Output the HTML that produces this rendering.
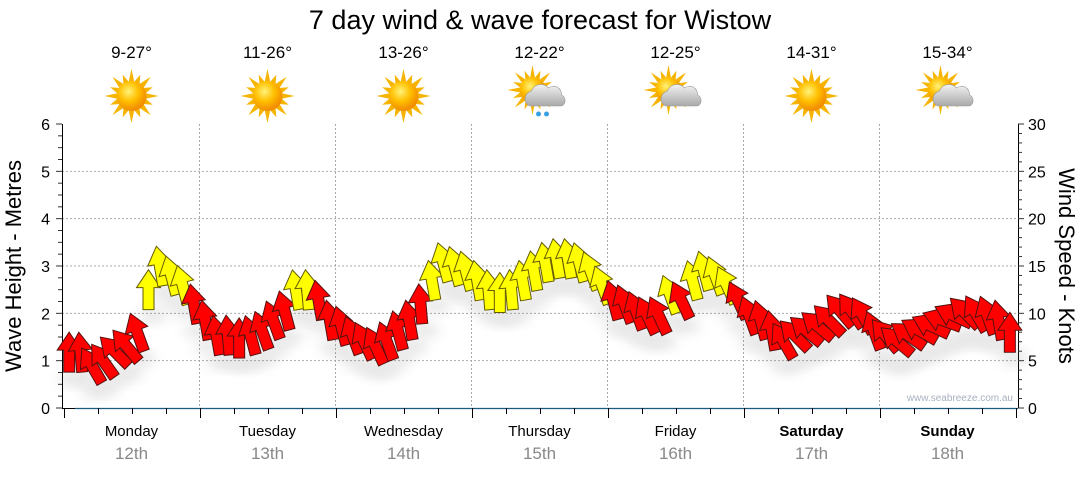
<!DOCTYPE html>
<html><head><meta charset="utf-8">
<style>
body{margin:0;background:#fff;width:1080px;height:475px;overflow:hidden;font-family:"Liberation Sans",sans-serif;}
svg text{font-family:"Liberation Sans",sans-serif;}
</style></head>
<body>
<svg id="c" width="1080" height="475" viewBox="0 0 1080 475" xmlns="http://www.w3.org/2000/svg">
<defs>
<radialGradient id="sunG" cx="40%" cy="35%" r="65%"><stop offset="0" stop-color="#fff27a"/><stop offset="0.5" stop-color="#ffc000"/><stop offset="1" stop-color="#f08a00"/></radialGradient>
<linearGradient id="cloudG" x1="0" y1="0" x2="0" y2="1"><stop offset="0" stop-color="#f2f2f2"/><stop offset="1" stop-color="#a8a8a8"/></linearGradient>
<filter id="sh" x="-50%" y="-50%" width="200%" height="200%"><feGaussianBlur stdDeviation="6"/></filter>
</defs>
<text x="540" y="29" text-anchor="middle" font-size="27" fill="#000">7 day wind &amp; wave forecast for Wistow</text>
<g id="weather"></g>
<g id="grid"></g>
<g id="axes"></g>
<g id="shadows" opacity="0.18"></g>
<g id="arrows"></g>
<text x="1013" y="401" text-anchor="end" font-size="10" fill="#a8b0c0">www.seabreeze.com.au</text>
<text transform="translate(21,266) rotate(-90)" text-anchor="middle" font-size="22" fill="#000">Wave Height - Metres</text>
<text transform="translate(1059,266) rotate(90)" text-anchor="middle" font-size="22" fill="#000">Wind Speed - Knots</text>
</svg>
<script>
const days=["Monday","Tuesday","Wednesday","Thursday","Friday","Saturday","Sunday"];
const dates=["12th","13th","14th","15th","16th","17th","18th"];
const temps=["9-27°","11-26°","13-26°","12-22°","12-25°","14-31°","15-34°"];
const icons=["sun","sun","sun","rain","cloud","sun","cloud"];
const waveTicks=[0,1,2,3,4,5,6];
const windTicks=[0,5,10,15,20,25,30];
// wind speed (knots) every 2 hours
const windSpeed=[
5.9,5.9,4.5,5,6,6.6,8,12.5,15,14,13,11,
9.3,7.7,7.7,7.4,7.7,8.2,9.3,10.3,12.5,12.5,11.4,9.3,
8.7,7.7,7.1,6.6,7.1,8.2,9.3,11,13.5,15.4,15,14.5,
13.5,12.5,12.2,12.5,13.5,14.5,15.4,15.8,15.8,15.4,14.5,13,
11.4,11,10.3,9.8,9.8,12,11.4,13.5,14.5,14,13,11.4,
9.8,9.3,8.2,7.1,7.7,8.2,8.7,9.3,10.3,10.3,9.8,8.2,
7.7,7.1,7.7,8.2,8.7,9.3,9.8,10.1,10,9.8,9.3,8
];
// direction arrow points to (degrees, 0=up, negative = left)
const windDir=[
0,-5,-30,-35,-45,-40,-20,0,-10,-15,-15,-10,
-10,-10,-5,0,-15,-20,-20,-15,-10,-5,-10,-10,
-15,-20,-25,-25,-20,-15,-10,-5,-10,-15,-15,-15,
-10,-5,0,-5,-10,-10,-10,-10,-10,-15,-20,-20,
-15,-20,-20,-25,-25,-20,-25,-15,-15,-20,-25,-25,
-20,-15,-10,-30,-45,-50,-50,-45,-40,-35,-30,-20,
-40,-50,-55,-60,-65,-70,-65,-45,-30,-20,-10,0
];
const X0=63.5,DW=136,Y0=408,PH=284;
const xs=t=>X0+t*DW;
const yWave=m=>Y0-m/6*PH;
const yWind=k=>Y0-k/30*PH;
const NS="http://www.w3.org/2000/svg";
function mk(tag,attrs,parent){const e=document.createElementNS(NS,tag);for(const k in attrs)e.setAttribute(k,attrs[k]);parent.appendChild(e);return e;}
const grid=document.getElementById('grid'),axes=document.getElementById('axes');
waveTicks.forEach(v=>{if(v>0&&v<6){const l=mk('line',{x1:62,x2:1018,y1:yWave(v),y2:yWave(v),stroke:'#aaa','stroke-dasharray':'2,2','stroke-width':1},grid);

}});
for(let d=1;d<7;d++){const l=mk('line',{x1:xs(d),x2:xs(d),y1:124,y2:408,stroke:'#aaa','stroke-dasharray':'2,2','stroke-width':1},grid);

}
mk('line',{x1:62.5,x2:62.5,y1:124,y2:408,stroke:'#000'},axes);
mk('line',{x1:1018.5,x2:1018.5,y1:124,y2:408,stroke:'#000'},axes);
mk('line',{x1:62,x2:75,y1:408.5,y2:408.5,stroke:'#000'},axes);
mk('line',{x1:75,x2:1018,y1:408.5,y2:408.5,stroke:'#1a5a80','stroke-width':1.2},axes);
for(let i=0;i<=24;i++){const y=yWave(i/4);mk('line',{x1:i%4==0?56:58,x2:62,y1:y,y2:y,stroke:'#333'},axes);}
waveTicks.forEach(v=>{const t=mk('text',{x:50,y:yWave(v)+6,'text-anchor':'end','font-size':16,fill:'#000'},axes);t.textContent=v;

});
for(let i=0;i<=30;i++){const y=yWind(i);mk('line',{x1:1018,x2:i%5==0?1024:1022,y1:y,y2:y,stroke:'#333'},axes);}
windTicks.forEach(v=>{const t=mk('text',{x:1028,y:yWind(v)+6,'text-anchor':'start','font-size':16,fill:'#000'},axes);t.textContent=v;

});
for(let q=0;q<=28;q++){const x=Math.round(xs(q/4))+0.5;mk('line',{x1:x,x2:x,y1:408,y2:q%4==0?418:414,stroke:'#000'},axes);}
days.forEach((d,i)=>{const t=mk('text',{x:xs(i+0.5),y:436,'text-anchor':'middle','font-size':15,fill:'#000','font-weight':i>=5?'bold':'normal'},axes);t.textContent=d;


const t2=mk('text',{x:xs(i+0.5),y:459,'text-anchor':'middle','font-size':17,fill:'#888'},axes);t2.textContent=dates[i];

});
const wg=document.getElementById('weather');
function sun(g,cx,cy,r){for(let a=0;a<16;a++){const ang=a*Math.PI/8,L=a%2?r+8:r+12,w=0.18;
mk('polygon',{points:`${cx+Math.cos(ang-w)*r},${cy+Math.sin(ang-w)*r} ${cx+Math.cos(ang)*L},${cy+Math.sin(ang)*L} ${cx+Math.cos(ang+w)*r},${cy+Math.sin(ang+w)*r}`,fill:'#f5b400'},g);}
mk('circle',{cx,cy,r,fill:'url(#sunG)'},g);}
function cloud(g,cx,cy){mk('path',{d:`M${cx-16},${cy+10} a8,8 0 0 1 2,-15 a10,10 0 0 1 17,-3 a8,8 0 0 1 13,7 a6,6 0 0 1 0,11 z`,fill:'url(#cloudG)',stroke:'#999','stroke-width':0.6},g);}
temps.forEach((tp,i)=>{const cx=xs(i+0.5),g=mk('g',{},wg);


const t=mk('text',{x:cx,y:58,'text-anchor':'middle','font-size':17,fill:'#000'},g);t.textContent=tp;
if(icons[i]=='sun')sun(g,cx,96,15);else{sun(g,cx-7,90,13);cloud(g,cx+6,96);
if(icons[i]=='rain'){mk('circle',{cx:cx-1,cy:114,r:2.5,fill:'#3aa0e0'},g);mk('circle',{cx:cx+7,cy:114,r:2.5,fill:'#3aa0e0'},g);}}});
const ag=document.getElementById('arrows'),sg=document.getElementById('shadows');
const shape="M0,-20 L12,-2 L5.5,-2 L5.5,20 L-5.5,20 L-5.5,-2 L-12,-2 Z";
windSpeed.forEach((k,i)=>{const x=xs((i+0.5)/12),y=yWind(k);
const s=mk('ellipse',{cx:x+4,cy:y+26,rx:15,ry:7,fill:'#777',filter:'url(#sh)'},sg);


const p=mk('path',{d:shape,transform:`translate(${x},${y}) rotate(${windDir[i]})`,fill:k>=12?'#ffff00':'#ff0000',stroke:k>=12?'#665c00':'#551010','stroke-width':1},ag);

});
</script>
</body></html>
